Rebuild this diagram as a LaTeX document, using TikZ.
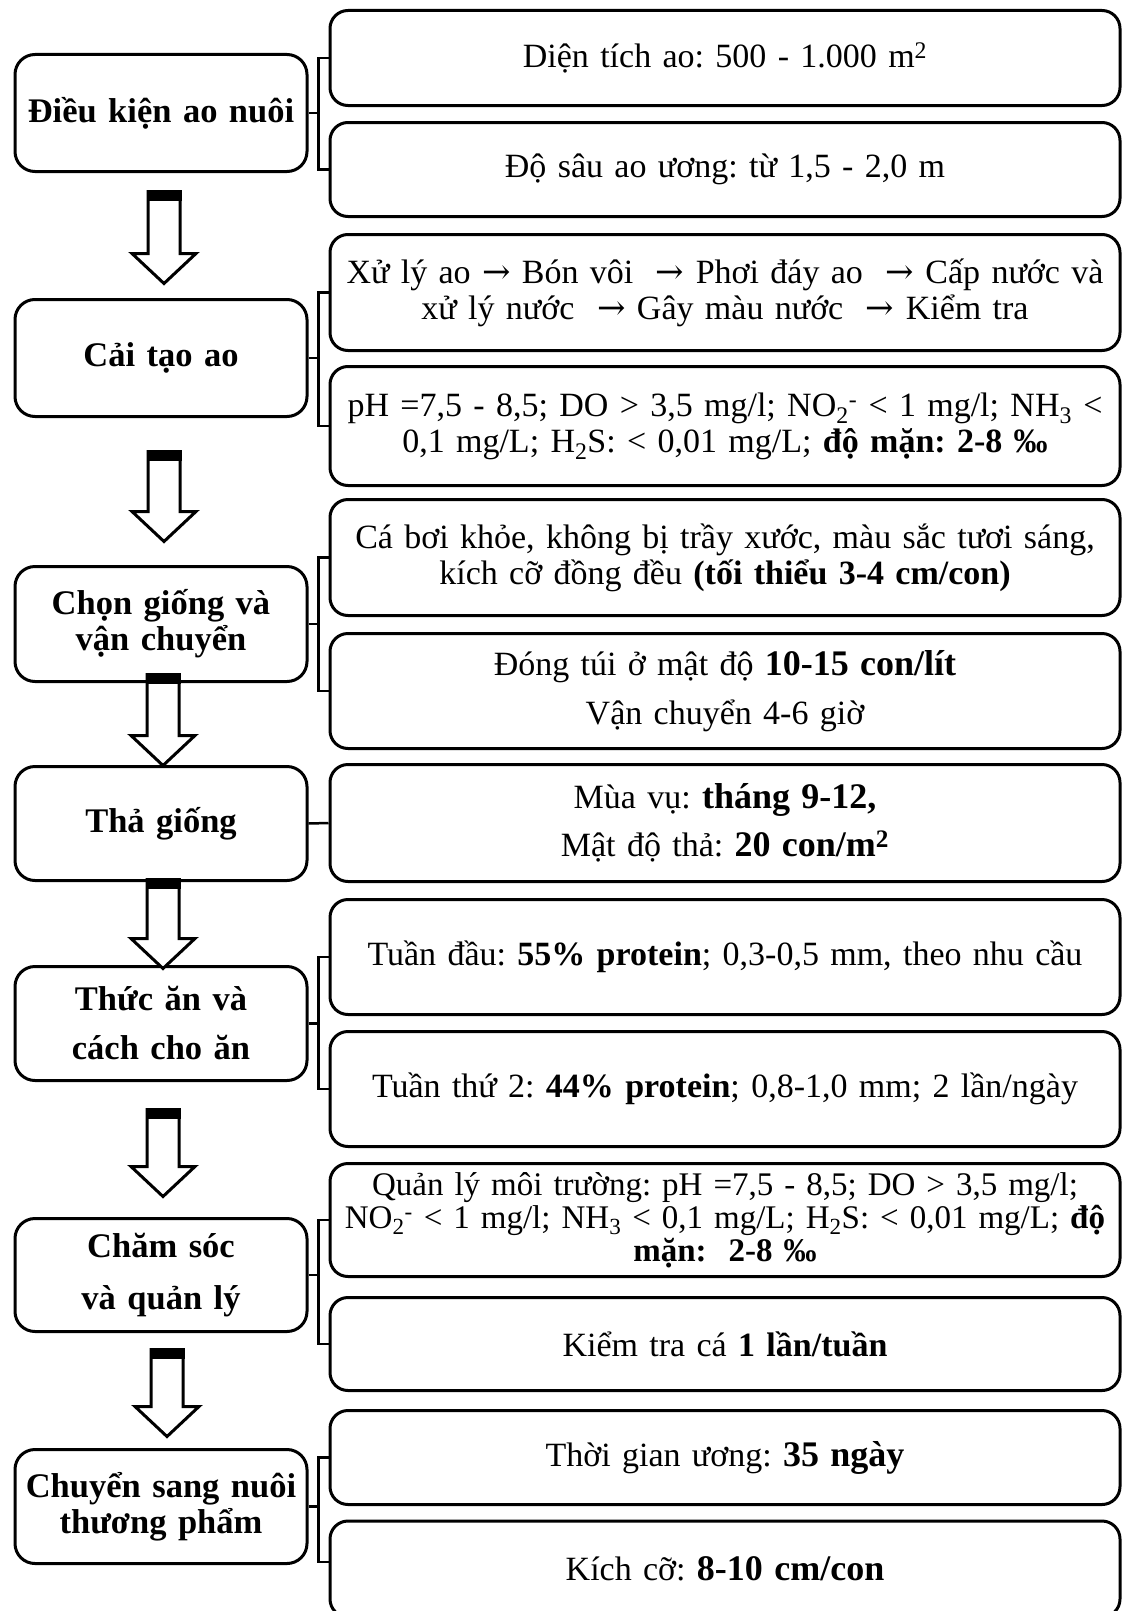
\documentclass[tikz,border=0pt]{standalone}
\usepackage{fontspec}
\setmainfont{Liberation Serif}
\newfontfamily\arrowfont{DejaVu Serif}
\usetikzlibrary{calc}
\newcommand{\bigbold}{\fontsize{36}{36}\selectfont\bfseries}
\newcommand{\ar}{ {\arrowfont →} }
\newcommand{\blockarrow}[2]{%
  \draw[arr] let \p1=(#1), \p2=(#2) in
    (\x1-16pt,\y1) -- (\x1-16pt,\y2+30pt) -- (\x1-32pt,\y2+30pt) -- (\x2,\y2)
    -- (\x1+32pt,\y2+30pt) -- (\x1+16pt,\y2+30pt) -- (\x1+16pt,\y1) -- cycle;
  \fill let \p1=(#1) in (\x1-17.5pt,\y1+1.5pt) rectangle (\x1+17.5pt,\y1-9pt);
}
\begin{document}
\frenchspacing
\begin{tikzpicture}[x=1pt,y=-1pt,
  lbox/.style={draw, line width=3pt, rounded corners=20pt, minimum width=292pt,
    inner sep=0pt, align=center, text width=290pt,
    font=\fontsize{34.5}{36}\selectfont\bfseries},
  rbox/.style={draw, line width=3pt, rounded corners=18pt, minimum width=790pt,
    inner sep=0pt, align=center, text width=790pt,
    font=\frenchspacing\fontsize{34}{36}\selectfont},
  br/.style={line width=2.5pt},
  arr/.style={draw, fill=white, line width=3pt, line join=miter}]
\useasboundingbox (0,0) rectangle (1123,1611);
\fill[white] (0,0) rectangle (1123,1611);
\clip (0,0) rectangle (1123,1611);

% left column
\node[lbox, minimum height=117pt] (L1) at (161,113) {Điều kiện ao nuôi};
\node[lbox, minimum height=117pt] (L2) at (161,358) {Cải tạo ao};
\node[lbox, minimum height=115pt] (L3) at (161,624) {Chọn giống và\\vận chuyển};
\node[lbox, minimum height=114pt] (L4) at (161,823.5) {Thả giống};
\node[lbox, minimum height=114pt] (L5) at (161,1023.5) {Thức ăn và\\[13pt]cách cho ăn};
\node[lbox, minimum height=113pt] (L6) at (161,1275) {Chăm sóc\\[16pt]và quản lý};
\node[lbox, minimum height=114pt] (L7) at (161,1506.5) {Chuyển sang nuôi\\thương phẩm};

% right column
\node[rbox, minimum height=95pt] (R1) at (725,58) {Diện tích ao: 500 - 1.000 m\textsuperscript{2}};
\node[rbox, minimum height=94pt] (R2) at (725,169.5) {Độ sâu ao ương: từ 1,5 - 2,0 m};
\node[rbox, minimum height=116pt] (R3) at (725,292.5) {Xử lý ao\ar Bón vôi \ar Phơi đáy ao \ar Cấp nước và\\xử lý nước \ar Gây màu nước \ar Kiểm tra};
\node[rbox, minimum height=119pt] (R4) at (725,426) {pH =7,5 - 8,5; DO > 3,5 mg/l; NO\textsubscript{2}\textsuperscript{-} < 1 mg/l; NH\textsubscript{3} <\\0,1 mg/L; H\textsubscript{2}S: < 0,01 mg/L; \textbf{độ mặn: 2-8 ‰}};
\node[rbox, minimum height=116pt] (R5) at (725,557.5) {Cá bơi khỏe, không bị trầy xước, màu sắc tươi sáng,\\kích cỡ đồng đều \textbf{(tối thiểu 3-4 cm/con)}};
\node[rbox, minimum height=115pt] (R6) at (725,691) {Đóng túi ở mật độ {\bigbold 10-15 con/lít}\\[13pt]Vận chuyển 4-6 giờ};
\node[rbox, minimum height=117pt] (R7) at (725,823) {Mùa vụ: {\bigbold tháng 9-12,}\\[12pt]Mật độ thả: {\bigbold 20 con/m\textsuperscript{2}}};
\node[rbox, minimum height=115pt] (R8) at (725,957) {Tuần đầu: \textbf{55\% protein}; 0,3-0,5 mm, theo nhu cầu};
\node[rbox, minimum height=115pt] (R9) at (725,1089) {Tuần thứ 2: \textbf{44\% protein}; 0,8-1,0 mm; 2 lần/ngày};
\node[rbox, minimum height=113pt, font=\frenchspacing\fontsize{33}{33}\selectfont] (R10) at (725,1220) {Quản lý môi trường: pH =7,5 - 8,5; DO > 3,5 mg/l;\\NO\textsubscript{2}\textsuperscript{-} < 1 mg/l; NH\textsubscript{3} < 0,1 mg/L; H\textsubscript{2}S: < 0,01 mg/L; \textbf{độ}\\\textbf{mặn:~ 2-8 ‰}};
\node[rbox, minimum height=93pt] (R11) at (725,1344) {Kiểm tra cá \textbf{1 lần/tuần}};
\node[rbox, minimum height=94pt] (R12) at (725,1457.5) {Thời gian ương: {\bigbold 35 ngày}};
\node[rbox, minimum height=96pt] (R13) at (725,1569) {Kích cỡ: {\bigbold 8-10 cm/con}};

% brackets
\draw[br] (L1.east) -- ++(10,0) coordinate (j1);
\draw[br] (R1.west) -| (j1) |- (R2.west);
\draw[br] (L2.east) -- ++(10,0) coordinate (j2);
\draw[br] (R3.west) -| (j2) |- (R4.west);
\draw[br] (L3.east) -- ++(10,0) coordinate (j3);
\draw[br] (R5.west) -| (j3) |- (R6.west);
\draw[br] (L4.east) -- (R7.west);
\draw[br] (L5.east) -- ++(10,0) coordinate (j5);
\draw[br] (R8.west) -| (j5) |- (R9.west);
\draw[br] (L6.east) -- ++(10,0) coordinate (j6);
\draw[br] (R10.west) -| (j6) |- (R11.west);
\draw[br] (L7.east) -- ++(10,0) coordinate (j7);
\draw[br] (R12.west) -| (j7) |- ($(R13.west)+(0,-7)$);

% block arrows
\coordinate (a1t) at ($(L1.south)+(3,18.5)$);  \coordinate (a1h) at ($(L2.north)+(3,-14.5)$);
\coordinate (a2t) at ($(L2.south)+(3,33.5)$);  \coordinate (a2h) at ($(L3.north)+(3,-23.5)$);
\coordinate (a3t) at ($(L3.south)+(2,-8.5)$);  \coordinate (a3h) at ($(L4.north)+(2,0.5)$);
\coordinate (a4t) at ($(L4.south)+(2,-2.5)$);  \coordinate (a4h) at ($(L5.north)+(2,3.5)$);
\coordinate (a5t) at ($(L5.south)+(2,27.5)$);  \coordinate (a5h) at ($(L6.north)+(2,-20.5)$);
\coordinate (a6t) at ($(L6.south)+(6,16.5)$);  \coordinate (a6h) at ($(L7.north)+(6,-11.5)$);
\blockarrow{a1t}{a1h}
\blockarrow{a2t}{a2h}
\blockarrow{a3t}{a3h}
\blockarrow{a4t}{a4h}
\blockarrow{a5t}{a5h}
\blockarrow{a6t}{a6h}
\end{tikzpicture}
\end{document}
